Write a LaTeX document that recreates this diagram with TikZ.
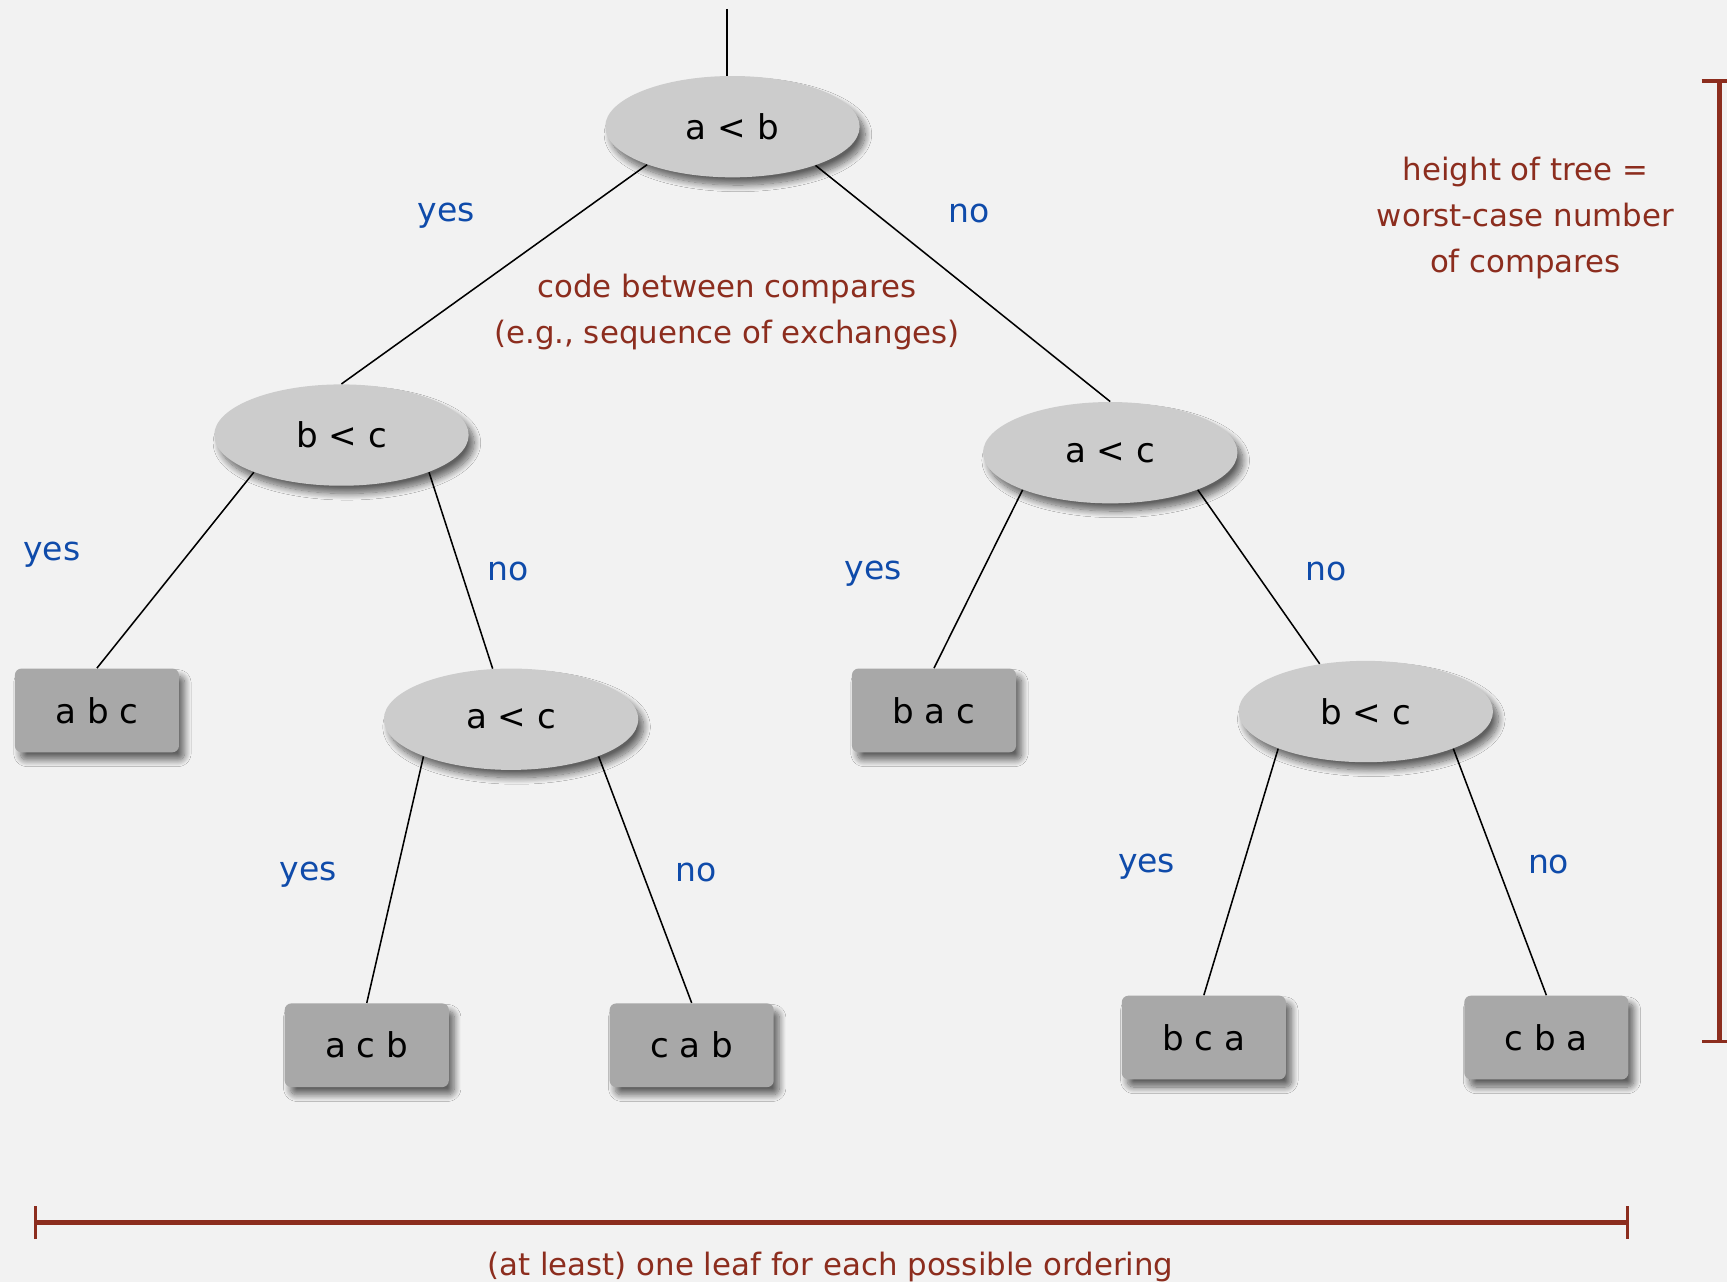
\documentclass[tikz,border=0pt]{standalone}
\usepackage{fontspec}
\setmainfont{DejaVu Sans}
\usetikzlibrary{shapes.geometric,shadows.blur,arrows.meta}
\definecolor{bgc}{HTML}{F2F2F2}
\definecolor{ellc}{HTML}{CCCCCC}
\definecolor{boxc}{HTML}{A8A8A8}
\definecolor{lblue}{RGB}{15,75,170}
\definecolor{dred}{RGB}{140,45,30}
\tikzset{
  shad/.style={blur shadow={shadow xshift=2.5pt,shadow yshift=-3.5pt,shadow blur radius=3pt,shadow blur steps=12,shadow opacity=60}},
  cmp/.style={ellipse,fill=ellc,minimum width=115.5pt,minimum height=46pt,inner sep=0pt,shad,font=\fontsize{15.5}{18}\selectfont},
  leaf/.style={rectangle,rounded corners=3pt,fill=boxc,minimum width=74.5pt,minimum height=38pt,inner sep=0pt,shad,font=\fontsize{15.5}{18}\selectfont},
  yn/.style={text=lblue,font=\fontsize{15}{18}\selectfont,inner sep=0pt},
  note/.style={text=dred,font=\fontsize{14}{21}\selectfont,align=center,inner sep=0pt},
  edge/.style={draw=black,line width=0.7pt},
  bracket/.style={draw=dred,line width=2pt}
}
\begin{document}
\begin{tikzpicture}[x=0.5pt,y=-0.5pt]
\fill[bgc] (0,0) rectangle (1568,1164);
\useasboundingbox (0,0) rectangle (1568,1164);

% comparison nodes
\node[cmp] (ab)  at (665,115) {a < b};
\node[cmp] (bc1) at (310,395) {b < c};
\node[cmp] (ac2) at (1008,411) {a < c};
\node[cmp] (ac1) at (464,653) {a < c};
\node[cmp] (bc2) at (1240,646) {b < c};

% leaves
\node[leaf] (abc) at (88,645)  {a b c};
\node[leaf] (bac) at (848,645) {b a c};
\node[leaf] (acb) at (333,949) {a c b};
\node[leaf] (cab) at (628,949) {c a b};
\node[leaf] (bca) at (1093,942) {b c a};
\node[leaf] (cba) at (1404,942) {c b a};

% edges
\coordinate (top) at (660,8);
\draw[edge] (top) -- (top |- ab.north);
\draw[edge] (ab.204) -- (bc1.north);
\draw[edge] (ab.335) -- (ac2.north);
\draw[edge] (bc1.203) -- (abc.north);
\draw[edge] (bc1.337) -- (ac1.110);
\draw[edge] (ac2.203) -- (bac.north);
\draw[edge] (ac2.337) -- (bc2.134);
\draw[edge] (ac1.203) -- (acb.north);
\draw[edge] (ac1.337) -- (cab.north);
\draw[edge] (bc2.203) -- (bca.north);
\draw[edge] (bc2.337) -- (cba.north);

% yes/no labels
\node[yn] (y1) at (405,196) {yes};
\node[yn] (n1) at (880,194) {no};
\node[yn] (y2) at (47,504) {yes};
\node[yn] (n2) at (461,519) {no};
\node[yn] (y3) at (793,521) {yes};
\node[yn] (n3) at (1204,519) {no};
\node[yn] (y4) at (280,794) {yes};
\node[yn] (n4) at (632,792) {no};
\node[yn] (y5) at (1041,787) {yes};
\node[yn] (n5) at (1406,785) {no};

% notes
\node[note] (code) at (660,283) {code between compares\\(e.g., sequence of exchanges)};
\node[note] (hgt) at (1385,198) {height of tree =\\worst-case number\\of compares};
\node[note] (leafn) at (754,1150) {(at least) one leaf for each possible ordering};

% brackets
\coordinate (vt) at (1561,72);
\coordinate (vb) at (1561,947);
\draw[bracket,{Bar[width=16pt,line width=1.6pt]}-{Bar[width=16pt,line width=1.6pt]}] (vt) -- (vb);
\coordinate (hl) at (31,1110);
\coordinate (hr) at (1479,1110);
\draw[bracket,{Bar[width=15pt,line width=1.4pt]}-{Bar[width=15pt,line width=1.4pt]}] (hl) -- (hr);
\end{tikzpicture}
\end{document}
